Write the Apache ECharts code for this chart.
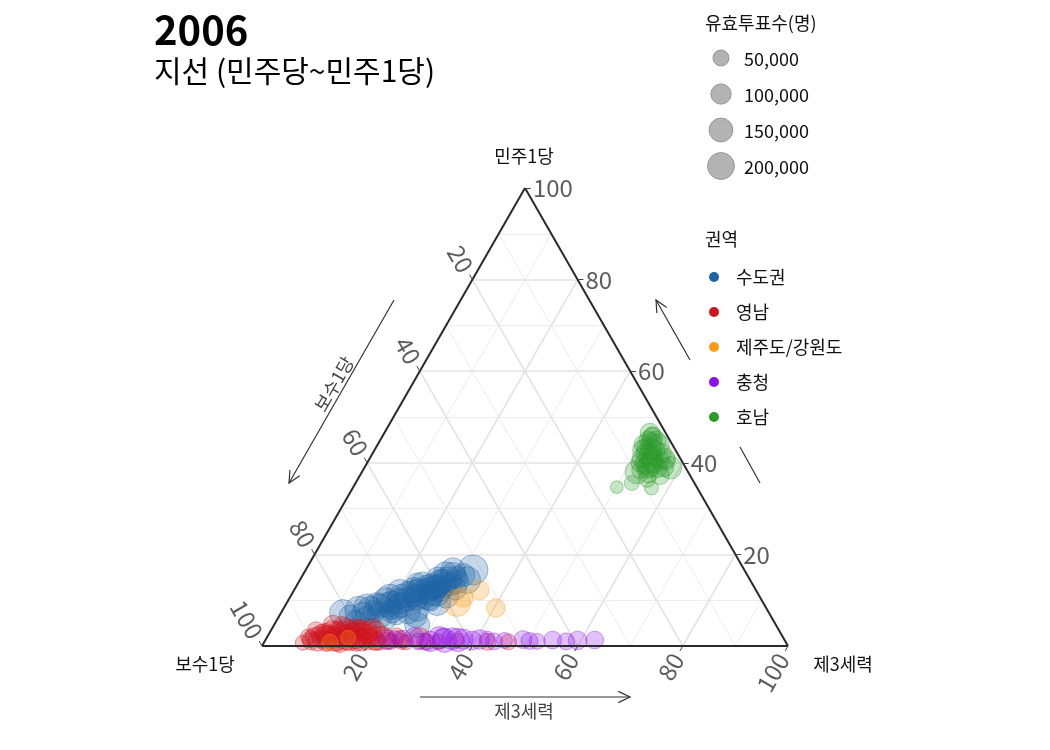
<!DOCTYPE html>
<html><head><meta charset="utf-8">
<script src="https://cdn.jsdelivr.net/npm/echarts@6/dist/echarts.min.js"></script>
<style>html,body{margin:0;padding:0;background:#fff}#c{width:1050px;height:750px}</style>
</head><body><div id="c"></div>
<script>
// ---- data: [민주1당 %, 제3세력 %, 유효투표수] (보수1당 = 100 - others) ----
const CATEGORIES = ['수도권', '영남', '제주도/강원도', '충청', '호남'];
const COLORS = ['#1f63a8', '#d0141e', '#ff9b10', '#8c10ea', '#2a9c2a'];
const AXIS_TICKS = [20, 40, 60, 80, 100];
const MINOR_TICKS = [10, 30, 50, 70, 90];
const SIZE_TICKS = [50000, 100000, 150000, 200000];

const sudogwon = [
  [7.2, 11.8, 200000], [6.5, 13.5, 130000], [7.8, 14.5, 220000], [8.5, 15.7, 190000],
  [5.5, 15.0, 110000], [6.0, 17.0, 160000], [7.5, 17.5, 120000], [8.8, 18.0, 150000],
  [10.5, 19.1, 210000], [9.5, 20.0, 140000], [11.6, 20.4, 200000], [8.0, 20.5, 100000],
  [9.0, 22.0, 170000], [10.2, 22.5, 150000], [7.0, 22.0, 120000], [11.0, 23.5, 140000],
  [12.0, 24.0, 180000], [9.8, 24.5, 110000], [10.8, 25.5, 160000], [12.5, 25.8, 150000],
  [13.2, 24.8, 120000], [11.5, 26.5, 170000], [13.0, 27.0, 140000], [14.0, 26.8, 160000],
  [12.0, 28.0, 110000], [14.5, 28.0, 180000], [13.5, 29.0, 150000], [15.0, 29.5, 120000],
  [9.6, 28.5, 200000], [4.6, 27.2, 170000], [6.5, 26.0, 130000], [16.6, 28.0, 160000],
  [16.6, 31.8, 260000], [14.4, 31.8, 200000], [15.5, 30.5, 140000], [11.0, 29.5, 170000],
  [12.5, 30.5, 130000], [8.0, 25.5, 150000], [10.0, 27.0, 120000], [13.8, 22.5, 90000],
  [7.5, 24.0, 160000], [5.8, 20.5, 130000], [6.8, 19.0, 180000],
  [8.2, 16.5, 160000], [9.2, 17.2, 130000], [10.0, 18.5, 170000], [7.0, 15.8, 150000],
  [9.8, 21.2, 180000], [10.8, 21.0, 160000], [8.5, 21.5, 150000], [11.2, 22.2, 190000],
  [12.2, 22.8, 170000], [10.5, 24.0, 150000], [11.8, 25.0, 160000], [13.0, 25.8, 180000],
  [12.8, 26.5, 150000], [14.0, 27.5, 170000], [13.2, 28.0, 160000], [14.8, 26.0, 130000],
  [11.5, 27.5, 180000], [15.5, 28.5, 170000], [14.0, 30.0, 150000], [12.0, 23.0, 130000],
  [9.0, 19.5, 170000], [10.5, 26.5, 150000], [7.5, 21.0, 130000], [15.8, 27.0, 150000],
  [13.5, 23.8, 160000]
];
const yeongnam = [
  [0.7, 7.4, 40000], [1.5, 8.5, 60000], [2.5, 9.5, 50000], [1.0, 10.0, 90000],
  [3.0, 10.5, 70000], [4.6, 11.2, 90000], [2.0, 11.5, 110000], [0.8, 12.0, 50000],
  [3.5, 12.5, 70000], [1.5, 13.0, 150000], [2.8, 13.5, 90000], [4.0, 14.0, 80000],
  [0.6, 14.5, 80000], [2.2, 15.0, 120000], [3.2, 15.5, 60000], [1.2, 16.0, 100000],
  [2.5, 16.8, 140000], [3.8, 17.0, 70000], [0.8, 17.5, 70000], [1.8, 18.0, 90000],
  [3.0, 18.5, 110000], [1.0, 19.5, 60000], [2.2, 20.0, 80000], [4.2, 19.0, 60000],
  [1.3, 20.8, 100000], [0.7, 22.0, 40000], [2.0, 22.5, 70000], [1.0, 24.0, 50000],
  [1.5, 25.5, 60000], [0.8, 27.0, 40000], [1.7, 29.1, 110000], [1.0, 30.5, 60000],
  [0.9, 33.0, 50000], [1.2, 36.5, 40000], [0.9, 42.4, 60000], [0.9, 46.4, 50000],
  [2.0, 7.8, 45000], [3.5, 8.5, 55000],
  [1.5, 10.5, 70000], [2.5, 11.0, 90000], [3.5, 11.5, 80000], [1.0, 11.8, 100000],
  [2.0, 12.8, 130000], [3.2, 13.2, 100000], [1.0, 13.8, 90000], [2.2, 14.2, 110000],
  [3.5, 14.8, 80000], [1.5, 15.2, 120000], [2.8, 16.0, 100000], [4.0, 15.8, 70000],
  [1.8, 16.8, 130000], [3.2, 17.6, 90000], [1.2, 18.2, 110000], [2.5, 18.8, 100000],
  [1.8, 19.5, 80000], [3.5, 20.0, 70000], [1.0, 21.2, 70000], [2.5, 21.5, 60000],
  [1.2, 23.2, 60000], [2.2, 24.5, 50000], [1.0, 26.0, 50000], [4.5, 13.0, 70000],
  [4.0, 16.5, 60000], [2.0, 9.0, 80000], [1.0, 8.8, 60000], [3.0, 9.8, 50000]
];
const jejuGangwon = [
  [9.4, 32.4, 200000], [10.7, 32.9, 100000], [12.2, 35.2, 90000], [8.3, 40.3, 80000],
  [0.8, 12.5, 50000], [1.8, 15.5, 40000]
];
const chungcheong = [
  [1.3, 23.1, 90000], [1.5, 26.1, 70000], [1.0, 29.3, 60000], [1.8, 32.8, 130000],
  [1.2, 34.1, 150000], [1.6, 35.4, 120000], [1.3, 36.6, 140000], [1.5, 37.5, 100000],
  [1.2, 39.4, 80000], [1.4, 40.7, 90000], [1.0, 43.6, 60000], [1.2, 45.5, 50000],
  [1.4, 48.9, 70000], [1.1, 50.3, 60000], [1.0, 51.8, 50000], [1.3, 54.6, 70000],
  [1.0, 57.3, 60000], [1.2, 59.4, 80000], [1.3, 62.6, 70000], [2.0, 28.0, 80000],
  [0.8, 31.0, 50000], [1.6, 42.0, 40000], [1.5, 24.5, 60000], [1.0, 31.5, 100000],
  [1.8, 33.5, 90000]
];
const honam = [
  [46.5, 50.5, 90000], [44.3, 51.9, 110000], [42.8, 51.0, 100000], [43.9, 53.4, 120000],
  [41.7, 52.9, 130000], [41.0, 51.7, 90000], [41.0, 56.1, 100000], [38.0, 52.3, 150000],
  [38.9, 53.8, 110000], [38.9, 55.7, 90000], [38.9, 58.2, 130000], [37.3, 57.0, 80000],
  [35.6, 52.5, 40000], [34.7, 50.1, 20000], [34.5, 56.8, 30000], [40.0, 51.9, 80000],
  [40.2, 54.2, 120000], [42.1, 54.9, 90000], [45.0, 50.9, 70000], [42.8, 53.3, 100000],
  [43.4, 51.1, 60000], [40.6, 55.4, 70000], [39.5, 54.0, 140000], [38.4, 52.7, 60000],
  [45.5, 51.5, 100000], [44.0, 50.5, 80000], [42.0, 52.2, 120000], [41.0, 53.5, 100000],
  [39.8, 53.0, 110000], [40.5, 56.5, 90000], [37.8, 54.5, 100000], [39.0, 57.0, 80000],
  [43.0, 52.5, 110000], [36.5, 55.0, 60000], [46.0, 51.2, 60000], [44.8, 52.6, 90000]
];
const SERIES_DATA = [sudogwon, yeongnam, jejuGangwon, chungcheong, honam];

// ---- ternary projection onto a hidden cartesian grid ----
const H = Math.sqrt(3) / 2;
function proj(a, c) { return [c + a / 2, a * H]; }   // a=민주1당 (top), c=제3세력 (right), b=보수1당 (left)
function bubble(v) { return Math.sqrt(100 + 0.0031 * v); }
function rgba(hex, al) {
  const n = parseInt(hex.slice(1), 16);
  return 'rgba(' + (n >> 16) + ',' + ((n >> 8) & 255) + ',' + (n & 255) + ',' + al + ')';
}

function gridSegs(list) {
  const segs = [];
  list.forEach(k => {
    segs.push({coords: [proj(k, 0), proj(k, 100 - k)]});
    segs.push({coords: [proj(0, k), proj(100 - k, k)]});
    segs.push({coords: [proj(100 - k, 0), proj(0, 100 - k)]});
  });
  return segs;
}
const majorGrid = gridSegs(AXIS_TICKS.filter(t => t < 100));
const minorGrid = gridSegs(MINOR_TICKS);
const edges = [
  {coords: [proj(0, 0), proj(0, 100)]},
  {coords: [proj(0, 100), proj(100, 0)]},
  {coords: [proj(100, 0), proj(0, 0)]}
];
const tickLen = 1.1;
const tickSegs = [];
AXIS_TICKS.forEach(t => {
  tickSegs.push({coords: [proj(0, t), proj(-tickLen, t)]});
  tickSegs.push({coords: [proj(100 - t, 0), proj(100 - t + tickLen, -tickLen)]});
  tickSegs.push({coords: [proj(t, 100 - t), proj(t, 100 - t + tickLen)]});
});
const lab = 2.0;
const bottomLabels = AXIS_TICKS.map(t => ({value: proj(-lab, t), name: String(t)}));
const leftLabels = AXIS_TICKS.map(t => ({value: proj(100 - t + lab, -lab), name: String(t)}));
const rightLabels = AXIS_TICKS.map(t => ({value: proj(t, 100 - t + 1.5), name: String(t)}));

const FONT = '"Noto Sans CJK KR", "Noto Sans", sans-serif';
function labelSeries(data, rotate, align) {
  return {
    type: 'scatter', data: data, symbolSize: 1, itemStyle: {color: 'rgba(0,0,0,0)'},
    clip: false, silent: true, z: 5,
    label: {show: true, position: 'inside', formatter: '{b}', rotate: rotate, align: align,
      verticalAlign: 'middle', fontSize: 24, color: '#333', fontFamily: FONT}
  };
}

const series = [
  {type: 'lines', coordinateSystem: 'cartesian2d', data: minorGrid, clip: false, silent: true, z: 1,
   lineStyle: {color: '#ededed', width: 1, opacity: 1}},
  {type: 'lines', coordinateSystem: 'cartesian2d', data: majorGrid, clip: false, silent: true, z: 1,
   lineStyle: {color: '#e3e3e3', width: 1.6, opacity: 1}}
];
CATEGORIES.forEach((name, i) => {
  series.push({
    type: 'scatter', name: name, clip: false, z: 3,
    data: SERIES_DATA[i].map(d => { const p = proj(d[0], d[1]); return [p[0], p[1], d[2]]; }),
    symbolSize: d => bubble(d[2]),
    itemStyle: {color: rgba(COLORS[i], 0.32), borderColor: rgba(COLORS[i], 0.5), borderWidth: 1}
  });
});
series.push(
  {type: 'lines', coordinateSystem: 'cartesian2d', data: edges, clip: false, silent: true, z: 4,
   lineStyle: {color: '#2a2a2a', width: 2, opacity: 1}},
  {type: 'lines', coordinateSystem: 'cartesian2d', data: tickSegs, clip: false, silent: true, z: 4,
   lineStyle: {color: '#444', width: 1, opacity: 1}},
  labelSeries(bottomLabels, 60, 'right'),
  labelSeries(leftLabels, -60, 'right'),
  labelSeries(rightLabels, 0, 'left')
);

// ---- annotations ----
function arrow(x1, y1, x2, y2, head) {
  const els = [{type: 'line', shape: {x1, y1, x2, y2}, style: {stroke: '#333', lineWidth: 1.2}}];
  if (head) {
    const ang = Math.atan2(y2 - y1, x2 - x1), L = 13, w = 0.45;
    els.push({type: 'polyline', shape: {points: [
      [x2 - L * Math.cos(ang - w), y2 - L * Math.sin(ang - w)], [x2, y2],
      [x2 - L * Math.cos(ang + w), y2 - L * Math.sin(ang + w)]]},
      style: {stroke: '#333', lineWidth: 1.2, fill: null}});
  }
  return els;
}
function txt(x, y, text, size, opts) {
  opts = opts || {};
  return {type: 'text', x: x, y: y, rotation: opts.rotation || 0,
    style: {text: text, fontSize: size, fontFamily: FONT, fontWeight: opts.weight || 'normal',
      fill: opts.fill || '#111', align: opts.align || 'left', verticalAlign: 'middle'}};
}

const graphic = [].concat(
  arrow(394, 300, 289, 483, true),
  arrow(760, 483, 740, 447, false),
  arrow(690, 360, 656, 300, true),
  arrow(420, 697, 630, 697, true),
  [
    txt(334, 384, '보수1당', 18, {rotation: Math.PI / 3, fill: '#444', align: 'center'}),
    txt(524, 711, '제3세력', 18, {fill: '#444', align: 'center'}),
    txt(524, 156, '민주1당', 18, {align: 'center'}),
    txt(205, 664, '보수1당', 18, {align: 'center'}),
    txt(843, 664, '제3세력', 18, {align: 'center'}),
    txt(154, 30, '2006', 40, {weight: 'bold', fill: '#000'}),
    txt(154, 71, '지선 (민주당~민주1당)', 30, {fill: '#000'}),
    txt(705, 23, '유효투표수(명)', 18),
    txt(705, 239, '권역', 18)
  ],
  SIZE_TICKS.map((v, i) => ({type: 'circle', shape: {cx: 721, cy: 58 + i * 36, r: bubble(v) / 2},
    style: {fill: '#b3b3b3', stroke: '#969696', lineWidth: 1}})),
  SIZE_TICKS.map((v, i) => txt(744, 59 + i * 36, v.toLocaleString('en-US'), 18))
);

const chart = echarts.init(document.getElementById('c'));
chart.setOption({
  animation: false,
  backgroundColor: '#fff',
  grid: {left: 262, top: 188, width: 526, height: 458},
  xAxis: {type: 'value', min: 0, max: 100, show: false},
  yAxis: {type: 'value', min: 0, max: 100 * H, show: false},
  legend: {
    orient: 'vertical', left: 704, top: 263, itemWidth: 34, itemHeight: 10, itemGap: 17,
    icon: 'circle', selectedMode: false,
    textStyle: {fontSize: 18, fontFamily: FONT, color: '#111'},
    data: CATEGORIES.map((n, i) => ({name: n, itemStyle: {color: COLORS[i], borderWidth: 0, opacity: 1}}))
  },
  series: series,
  graphic: graphic
});
</script></body></html>
